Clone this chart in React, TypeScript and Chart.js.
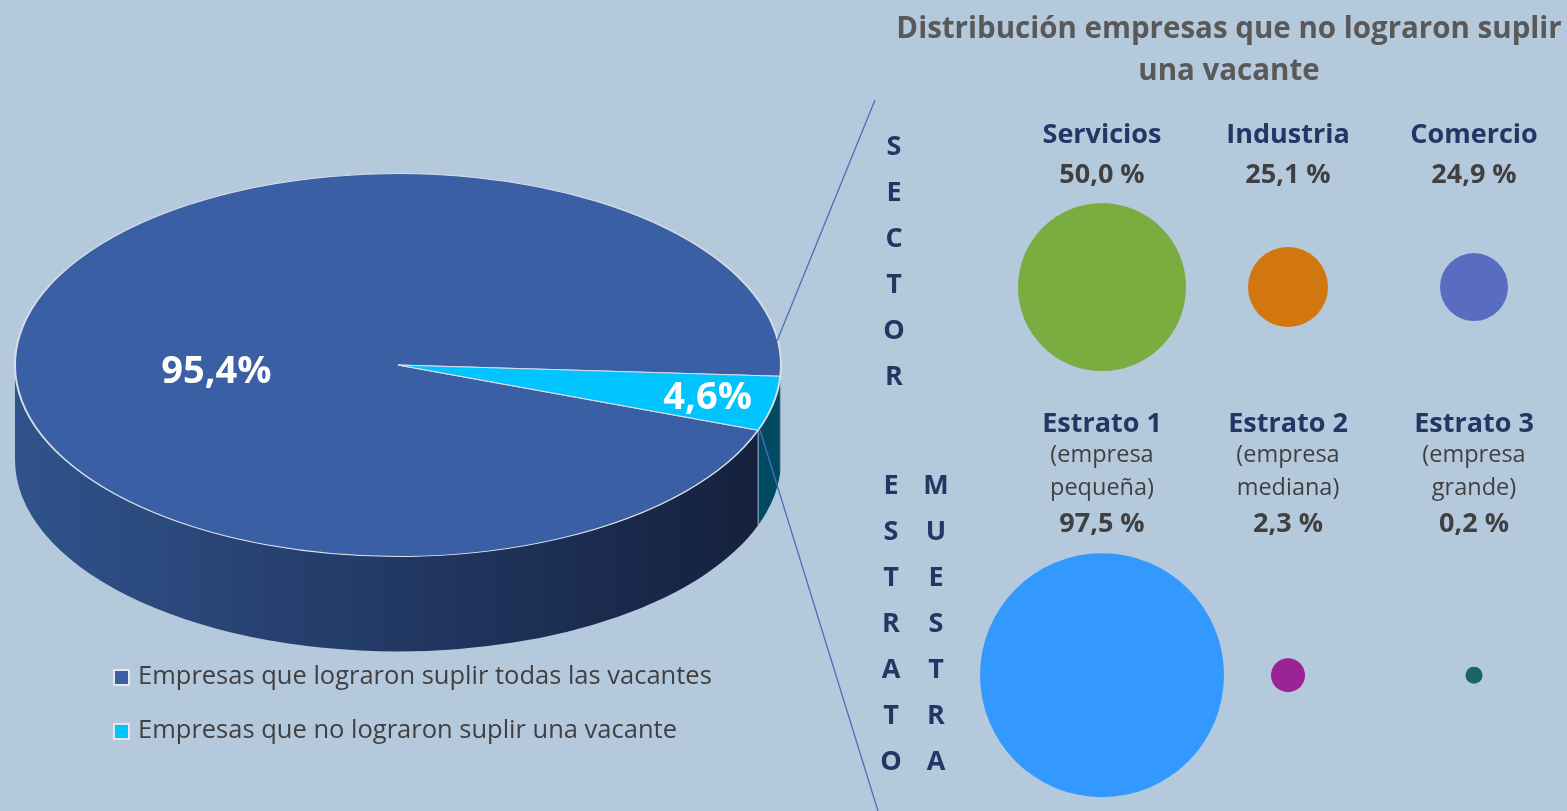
import React, { useEffect, useRef } from "react";
import { Chart, registerables } from "chart.js";
Chart.register(...registerables);

// ---------------- DATA ----------------
const pieLabels = [
  "Empresas que lograron suplir todas las vacantes",
  "Empresas que no lograron suplir una vacante",
];
const pieValues = [95.4, 4.6];

const titleLines = ["Distribución empresas que no lograron suplir", "una vacante"];

const sectorNames = ["Servicios", "Industria", "Comercio"];
const sectorValues = [50.0, 25.1, 24.9];

const estratoNames = ["Estrato 1", "Estrato 2", "Estrato 3"];
const estratoSubtitles = [
  ["(empresa", "pequeña)"],
  ["(empresa", "mediana)"],
  ["(empresa", "grande)"],
];
const estratoValues = [97.5, 2.3, 0.2];

const sectorAxisLabel = "SECTOR";
const estratoAxisLabels = ["ESTRATO", "MUESTRA"];

// ---------------- STYLE ----------------
const W = 1567;
const H = 811;
const BG = "#B5C9DD";
const FONT = "'Open Sans'";
const NAVY = "#1F3864";
const GRAY = "#404040";
const TITLE_GRAY = "#595959";

const PIE_COLORS = ["#3A5FA5", "#00C4FF"];
const PIE_SIDE = [
  ["#30538C", "#141F3B"],
  ["#004E66", "#004A62"],
];
const PIE_BORDER = "#D9DEE6";
const PIE_K = 0.5; // vertical squash of the tilted pie
const PIE_DEPTH = 95;
const PIE_LABEL_ANCHORS = [
  { angle: 177, r: 0.475 },
  { angle: 11.5, r: 0.825 },
];

const SECTOR_COLORS = ["#7AAC3F", "#D2770F", "#586DC0"];
const ESTRATO_COLORS = ["#3399FF", "#9B2393", "#1A6464"];
const SECTOR_RADII = [84, 40, 34];
const ESTRATO_RADII = [122, 17, 8.5];

const fmtPct = (v: number, space: boolean) =>
  v.toFixed(1).replace(".", ",") + (space ? " %" : "%");

// ---------------- PIE PLUGIN ----------------
const pie3d = {
  id: "pie3d",
  beforeDatasetsDraw(chart: any) {
    const ctx = chart.ctx as CanvasRenderingContext2D;
    const arcs = chart.getDatasetMeta(0).data;
    if (!arcs.length) return;
    const { x: cx, y: cy, outerRadius: R } = arcs[0].getProps(["x", "y", "outerRadius"], true);
    const TWO = Math.PI * 2;
    const drawSide = (a1: number, a2: number, i: number) => {
      ctx.beginPath();
      ctx.ellipse(cx, cy, R, R * PIE_K, 0, a1, a2);
      ctx.ellipse(cx, cy + PIE_DEPTH, R, R * PIE_K, 0, a2, a1, true);
      ctx.closePath();
      const g = ctx.createLinearGradient(cx - R, 0, cx + R, 0);
      g.addColorStop(0, PIE_SIDE[i][0]);
      g.addColorStop(1, PIE_SIDE[i][1]);
      ctx.fillStyle = g;
      ctx.fill();
    };
    ctx.save();
    const edges: number[] = [];
    arcs.forEach((arc: any, i: number) => {
      const { startAngle, endAngle } = arc.getProps(["startAngle", "endAngle"], true);
      for (let k = -2; k <= 2; k++) {
        const lo = Math.max(startAngle, TWO * k);
        const hi = Math.min(endAngle, TWO * k + Math.PI);
        if (hi > lo) drawSide(lo, hi, i);
      }
      edges.push(startAngle);
    });
    ctx.strokeStyle = "#9FB0C8";
    ctx.lineWidth = 1;
    edges.forEach((a) => {
      const s = Math.sin(a);
      if (s > 0.05 && s < 0.99 && Math.cos(a) > 0) {
        const x = cx + R * Math.cos(a);
        const y = cy + R * PIE_K * s;
        ctx.beginPath();
        ctx.moveTo(x, y);
        ctx.lineTo(x, y + PIE_DEPTH);
        ctx.stroke();
      }
    });
    ctx.restore();
    ctx.save();
    ctx.translate(0, cy);
    ctx.scale(1, PIE_K);
    ctx.translate(0, -cy);
  },
  afterDatasetsDraw(chart: any) {
    const ctx = chart.ctx as CanvasRenderingContext2D;
    ctx.restore();
    const arcs = chart.getDatasetMeta(0).data;
    const { x: cx, y: cy, outerRadius: R } = arcs[0].getProps(["x", "y", "outerRadius"], true);
    // value labels
    ctx.save();
    ctx.fillStyle = "#FFFFFF";
    ctx.font = `bold 38px ${FONT}`;
    ctx.textAlign = "center";
    ctx.textBaseline = "middle";
    pieValues.forEach((v, i) => {
      const a = (PIE_LABEL_ANCHORS[i].angle * Math.PI) / 180;
      const r = PIE_LABEL_ANCHORS[i].r * R;
      ctx.fillText(fmtPct(v, false), cx + r * Math.cos(a), cy + 2 + r * PIE_K * Math.sin(a));
    });
    ctx.restore();
  },
  afterDraw(chart: any) {
    const ctx = chart.ctx as CanvasRenderingContext2D;
    // legend
    ctx.save();
    const labels = chart.data.labels as string[];
    const colors = chart.data.datasets[0].backgroundColor as string[];
    labels.forEach((t, i) => {
      const y = 677 + i * 54;
      ctx.fillStyle = "#E4E8EE";
      ctx.fillRect(113, y - 8, 17, 17);
      ctx.fillStyle = colors[i];
      ctx.fillRect(115, y - 6, 13, 13);
      ctx.fillStyle = GRAY;
      ctx.font = `25.5px ${FONT}`;
      ctx.textAlign = "left";
      ctx.textBaseline = "middle";
      ctx.fillText(t, 138, y);
    });
    // connector lines
    ctx.strokeStyle = "#4A6FB8";
    ctx.lineWidth = 1.3;
    ctx.beginPath();
    ctx.moveTo(875, 100);
    ctx.lineTo(777, 341);
    ctx.moveTo(760, 430);
    ctx.lineTo(878, 811);
    ctx.stroke();
    ctx.restore();
  },
};

// ---------------- BUBBLE TEXT PLUGIN ----------------
const bubbleText = {
  id: "bubbleText",
  afterDatasetsDraw(chart: any) {
    const ctx = chart.ctx as CanvasRenderingContext2D;
    ctx.save();
    ctx.textAlign = "center";
    ctx.textBaseline = "alphabetic";
    // title
    ctx.fillStyle = TITLE_GRAY;
    ctx.font = `bold 29.5px ${FONT}`;
    ctx.fillText(titleLines[0], 1229, 38);
    ctx.fillText(titleLines[1], 1229, 80);

    const m0 = chart.getDatasetMeta(0).data;
    m0.forEach((el: any, i: number) => {
      ctx.fillStyle = NAVY;
      ctx.font = `bold 27px ${FONT}`;
      ctx.fillText(sectorNames[i], el.x, el.y - 144);
      ctx.fillStyle = GRAY;
      ctx.font = `bold 27px ${FONT}`;
      ctx.fillText(fmtPct(sectorValues[i], true), el.x, el.y - 104);
    });
    const m1 = chart.getDatasetMeta(1).data;
    m1.forEach((el: any, i: number) => {
      ctx.fillStyle = NAVY;
      ctx.font = `bold 27px ${FONT}`;
      ctx.fillText(estratoNames[i], el.x, el.y - 243);
      ctx.fillStyle = GRAY;
      ctx.font = `23.5px ${FONT}`;
      ctx.fillText(estratoSubtitles[i][0], el.x, el.y - 213);
      ctx.fillText(estratoSubtitles[i][1], el.x, el.y - 180);
      ctx.font = `bold 27px ${FONT}`;
      ctx.fillText(fmtPct(estratoValues[i], true), el.x, el.y - 143);
    });

    // vertical letter labels
    ctx.fillStyle = NAVY;
    ctx.font = `bold 27px ${FONT}`;
    ctx.textBaseline = "middle";
    sectorAxisLabel.split("").forEach((ch, i) => ctx.fillText(ch, 894, 147 + i * 46));
    estratoAxisLabels[0].split("").forEach((ch, i) => ctx.fillText(ch, 891, 486 + i * 46));
    estratoAxisLabels[1].split("").forEach((ch, i) => ctx.fillText(ch, 936, 486 + i * 46));
    ctx.restore();
  },
};

export default function App() {
  const pieRef = useRef<HTMLCanvasElement>(null);
  const bubRef = useRef<HTMLCanvasElement>(null);

  useEffect(() => {
    const bubble = new Chart(bubRef.current!, {
      type: "bubble",
      data: {
        datasets: [
          {
            data: sectorValues.map((_, i) => ({ x: i, y: 0 })),
            backgroundColor: SECTOR_COLORS,
            borderWidth: 0,
            radius: (c: any) => SECTOR_RADII[c.dataIndex],
            clip: false,
          } as any,
          {
            data: estratoValues.map((_, i) => ({ x: i, y: 1 })),
            backgroundColor: ESTRATO_COLORS,
            borderWidth: 0,
            radius: (c: any) => ESTRATO_RADII[c.dataIndex],
            clip: false,
          } as any,
        ],
      },
      options: {
        responsive: false,
        animation: false,
        events: [],
        layout: { autoPadding: false, padding: { left: 1009, right: 0, top: 93, bottom: 0 } },
        scales: {
          x: { type: "linear", min: -0.5, max: 2.5, display: false },
          y: { type: "linear", min: -0.5, max: 1.35, reverse: true, display: false },
        },
        plugins: { legend: { display: false }, tooltip: { enabled: false } },
      } as any,
      plugins: [bubbleText],
    });

    const pie = new Chart(pieRef.current!, {
      type: "pie",
      data: {
        labels: pieLabels,
        datasets: [
          {
            data: pieValues,
            backgroundColor: PIE_COLORS,
            borderColor: PIE_BORDER,
            borderWidth: 2,
            clip: false,
          } as any,
        ],
      },
      options: {
        responsive: false,
        animation: false,
        events: [],
        rotation: 109.9,
        radius: 383,
        layout: { padding: { left: 15, right: W - 781, top: 0, bottom: H - 730 } },
        plugins: { legend: { display: false }, tooltip: { enabled: false } },
      } as any,
      plugins: [pie3d],
    });

    return () => {
      pie.destroy();
      bubble.destroy();
    };
  }, []);

  return (
    <div
      style={{
        position: "fixed",
        left: 0,
        top: 0,
        width: W,
        height: H,
        background: BG,
        overflow: "hidden",
      }}
    >
      <canvas ref={bubRef} width={W} height={H} style={{ position: "absolute", left: 0, top: 0, width: W, height: H }} />
      <canvas ref={pieRef} width={W} height={H} style={{ position: "absolute", left: 0, top: 0, width: W, height: H }} />
    </div>
  );
}
